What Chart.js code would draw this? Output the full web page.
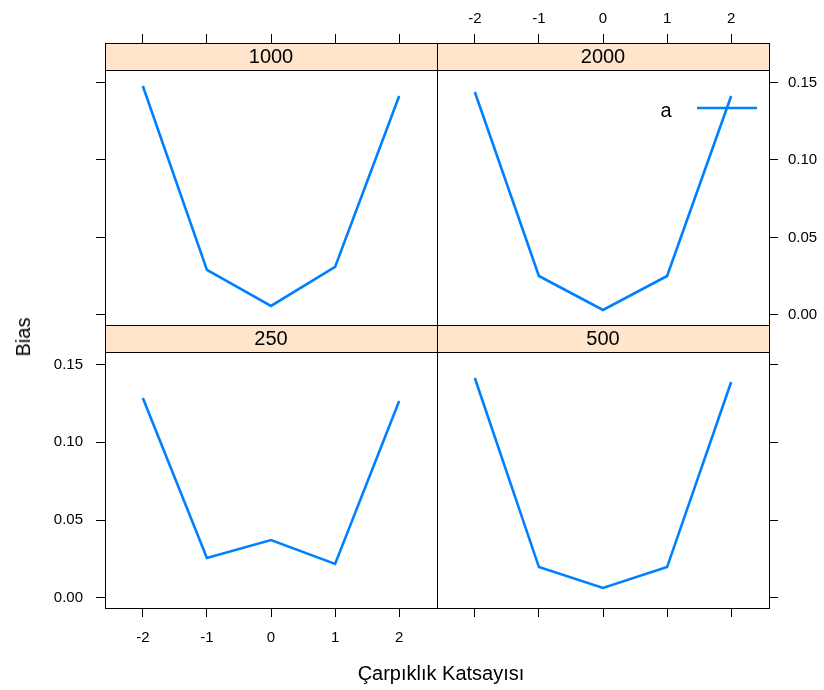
<!DOCTYPE html>
<html>
<head>
<meta charset="utf-8">
<script src="https://cdn.jsdelivr.net/npm/chart.js@4.4.1/dist/chart.umd.min.js"></script>
<style>
  html, body { margin: 0; padding: 0; background: #fff; }
  #wrap { position: relative; width: 824px; height: 690px; overflow: hidden; font-family: 'Liberation Sans', Arial, sans-serif; }
  #wrap canvas { position: absolute; left: 0; top: 0; }
  .ttl { position: absolute; font-size: 20px; line-height: 20px; color: #000; white-space: nowrap; }
  #xlab { left: 441px; top: 673px; transform: translate(-50%, -50%); }
  #ylab { left: 23px; top: 337px; transform: translate(-50%, -50%) rotate(-90deg); }
</style>
</head>
<body>
<div id="wrap">
  <canvas id="p1000" width="824" height="690"></canvas>
  <canvas id="p2000" width="824" height="690"></canvas>
  <canvas id="p250" width="824" height="690"></canvas>
  <canvas id="p500" width="824" height="690"></canvas>
  <div class="ttl" id="xlab">Çarpıklık Katsayısı</div>
  <div class="ttl" id="ylab">Bias</div>
</div>
<script>
// veriler: çarpıklık katsayısı ve örneklem büyüklüğüne göre yanlılık
const skewness = [-2, -1, 0, 1, 2];
const bias250  = [0.1285, 0.0256, 0.0372, 0.0218, 0.1265];
const bias500  = [0.1413, 0.0198, 0.0064, 0.0198, 0.1387];
const bias1000 = [0.1477, 0.0290, 0.0058, 0.0310, 0.1412];
const bias2000 = [0.1438, 0.0251, 0.0032, 0.0251, 0.1412];
const xTicks = [-2, -1, 0, 1, 2];
const yTicks = [0.00, 0.05, 0.10, 0.15];
const seriesNames = ['a'];

const lineColor = '#0080ff';
const stripColor = '#ffe5cc';
const fontFamily = "'Liberation Sans', Arial, sans-serif";

// şerit (strip) arka planı ve panel çerçevesi
const framePlugin = {
    id: 'frame',
    beforeDraw(chart) {
        const t = chart.titleBlock;
        const ctx = chart.ctx;
        ctx.save();
        ctx.fillStyle = stripColor;
        ctx.fillRect(t.left, t.top, t.width, t.height);
        ctx.restore();
    },
    afterDraw(chart) {
        const t = chart.titleBlock;
        const a = chart.chartArea;
        const ctx = chart.ctx;
        ctx.save();
        ctx.strokeStyle = '#000';
        ctx.lineWidth = 1;
        ctx.strokeRect(Math.round(t.left) + 0.5, Math.round(t.top) + 0.5, Math.round(t.width), Math.round(t.height));
        ctx.strokeRect(Math.round(a.left) + 0.5, Math.round(a.top) + 0.5, Math.round(a.right - a.left), Math.round(a.bottom - a.top));
        ctx.restore();
    }
};

// sağ üst paneldeki anahtar
const keyPlugin = {
    id: 'key',
    afterDatasetsDraw(chart) {
        const a = chart.chartArea;
        const ctx = chart.ctx;
        const x = a.right - 72, y = a.top + 38;
        ctx.save();
        ctx.strokeStyle = lineColor;
        ctx.lineWidth = 2.5;
        ctx.beginPath();
        ctx.moveTo(x, y);
        ctx.lineTo(x + 60, y);
        ctx.stroke();
        ctx.fillStyle = '#000';
        ctx.font = '20px ' + fontFamily;
        ctx.textAlign = 'center';
        ctx.textBaseline = 'middle';
        ctx.fillText(seriesNames[0], x - 31, y + 3);
        ctx.restore();
    }
};

function makePanel(id, label, values, o) {
    const top = o.row === 0;
    const left = o.col === 0;
    const padding = {
        left: left ? 45 : 437,
        right: left ? 387 : 5,
        top: top ? 9 : 325,
        bottom: top ? 365 : 42
    };
    const tickFont = { family: fontFamily, size: 15 };

    new Chart(document.getElementById(id), {
        type: 'line',
        data: {
            datasets: [{
                label: seriesNames[0],
                data: skewness.map((x, i) => ({ x: x, y: values[i] })),
                borderColor: lineColor,
                borderWidth: 2.6,
                pointRadius: 0,
                tension: 0,
                fill: false
            }]
        },
        options: {
            responsive: false,
            animation: false,
            devicePixelRatio: 1,
            events: [],
            layout: { padding: padding },
            scales: {
                x: {
                    type: 'linear',
                    position: top ? 'top' : 'bottom',
                    weight: 3000,
                    min: -2.59,
                    max: 2.59,
                    afterBuildTicks: s => { s.ticks = xTicks.map(v => ({ value: v })); },
                    afterFit: s => { s.height = top ? 34 : 40; },
                    grid: { drawOnChartArea: false, drawTicks: true, tickLength: 9, color: '#000' },
                    border: { display: false },
                    ticks: {
                        display: o.xLabels,
                        autoSkip: false,
                        maxRotation: 0,
                        padding: top ? 6 : 12,
                        color: '#000',
                        font: tickFont,
                        callback: v => String(v)
                    }
                },
                y: {
                    type: 'linear',
                    position: left ? 'left' : 'right',
                    min: -0.0065,
                    max: 0.158,
                    afterBuildTicks: s => { s.ticks = yTicks.map(v => ({ value: v })); },
                    afterFit: s => { s.width = left ? 60 : 50; },
                    grid: { drawOnChartArea: false, drawTicks: true, tickLength: 9, color: '#000' },
                    border: { display: false },
                    ticks: {
                        display: o.yLabels,
                        padding: left ? 13 : 10,
                        color: '#000',
                        font: tickFont,
                        callback: v => v.toFixed(2)
                    }
                }
            },
            plugins: {
                legend: { display: false },
                tooltip: { enabled: false },
                title: {
                    display: true,
                    text: label,
                    position: 'top',
                    fullSize: false,
                    color: '#000',
                    padding: { top: 4, bottom: 3 },
                    font: { family: fontFamily, size: 20, weight: 'normal', lineHeight: 1 }
                }
            }
        },
        plugins: o.key ? [framePlugin, keyPlugin] : [framePlugin]
    });
}

makePanel('p1000', '1000', bias1000, { row: 0, col: 0, xLabels: false, yLabels: false });
makePanel('p2000', '2000', bias2000, { row: 0, col: 1, xLabels: true, yLabels: true, key: true });
makePanel('p250', '250', bias250, { row: 1, col: 0, xLabels: true, yLabels: true });
makePanel('p500', '500', bias500, { row: 1, col: 1, xLabels: false, yLabels: false });
</script>
</body>
</html>
